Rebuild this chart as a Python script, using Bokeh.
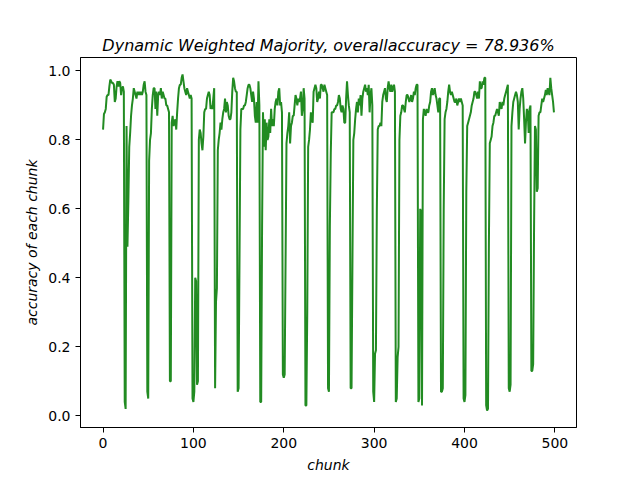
from bokeh.plotting import figure
from bokeh.models import Range1d, FixedTicker, PrintfTickFormatter, ColumnDataSource
from bokeh.embed import file_html
from bokeh.resources import INLINE

# accuracy of each chunk
acc_start = [0.83, 0.875, 0.88, 0.89, 0.925, 0.93, 0.93, 0.955, 0.975, 0.97, 0.965, 0.965,
             0.96, 0.91, 0.92, 0.955, 0.97, 0.955, 0.97, 0.965, 0.93, 0.95, 0.955, 0.94]
acc_seg00 = [0.04, 0.02, 0.84, 0.49, 0.62, 0.78, 0.82, 0.87, 0.90, 0.92, 0.95, 0.94, 0.93,
             0.92, 0.94, 0.93, 0.94, 0.93, 0.94, 0.93, 0.94, 0.96, 0.97, 0.94, 0.93]
acc_seg01 = [0.07, 0.05, 0.74, 0.80, 0.82, 0.89, 0.93, 0.95, 0.95, 0.89, 0.94, 0.87, 0.93,
             0.94, 0.93, 0.95, 0.92, 0.94, 0.93, 0.92, 0.92, 0.90, 0.90, 0.89, 0.88]
acc_seg02 = [0.10, 0.10, 0.85, 0.87, 0.84, 0.85, 0.86, 0.83, 0.88, 0.92, 0.95, 0.96, 0.96,
             0.98, 0.99, 0.97, 0.95, 0.94, 0.93, 0.95, 0.94, 0.93, 0.92, 0.93, 0.92]
acc_seg03 = [0.05, 0.04, 0.07, 0.40, 0.39, 0.09, 0.10, 0.80, 0.83, 0.82, 0.79, 0.77, 0.81,
             0.88, 0.89, 0.89, 0.92, 0.93, 0.94, 0.93, 0.89, 0.90, 0.89, 0.92, 0.95]
acc_seg04 = [0.08, 0.33, 0.37, 0.77, 0.80, 0.82, 0.85, 0.83, 0.86, 0.88, 0.89, 0.92, 0.88,
             0.91, 0.90, 0.87, 0.86, 0.86, 0.88, 0.94, 0.98, 0.97, 0.95, 0.94, 0.94]
acc_seg05 = [0.07, 0.08, 0.45, 0.83, 0.89, 0.89, 0.89, 0.90, 0.90, 0.91, 0.93, 0.95, 0.96,
             0.96, 0.95, 0.93, 0.91, 0.94, 0.92, 0.87, 0.85, 0.91, 0.85, 0.97, 0.90]
acc_seg06 = [0.04, 0.04, 0.55, 0.88, 0.78, 0.86, 0.77, 0.85, 0.80, 0.81, 0.86, 0.82, 0.89,
             0.84, 0.86, 0.84, 0.89, 0.91, 0.92, 0.90, 0.94, 0.95, 0.90, 0.91, 0.88]
acc_seg07 = [0.12, 0.11, 0.12, 0.45, 0.79, 0.82, 0.84, 0.88, 0.79, 0.84, 0.85, 0.87, 0.87,
             0.90, 0.93, 0.92, 0.90, 0.92, 0.91, 0.92, 0.94, 0.87, 0.89, 0.95, 0.92]
acc_seg08 = [0.03, 0.03, 0.30, 0.78, 0.80, 0.83, 0.88, 0.86, 0.85, 0.94, 0.95, 0.96, 0.95,
             0.91, 0.92, 0.94, 0.92, 0.96, 0.96, 0.95, 0.94, 0.96, 0.95, 0.94, 0.93]
acc_seg09 = [0.08, 0.07, 0.55, 0.76, 0.88, 0.88, 0.88, 0.89, 0.89, 0.90, 0.90, 0.91, 0.93,
             0.92, 0.89, 0.88, 0.90, 0.89, 0.85, 0.85, 0.92, 0.97, 0.93, 0.90, 0.88]
acc_seg10 = [0.08, 0.08, 0.45, 0.80, 0.82, 0.86, 0.89, 0.91, 0.88, 0.92, 0.90, 0.93, 0.87,
             0.92, 0.94, 0.95, 0.96, 0.94, 0.95, 0.93, 0.96, 0.88, 0.93, 0.95, 0.90]
acc_seg11 = [0.07, 0.04, 0.18, 0.19, 0.60, 0.83, 0.84, 0.84, 0.85, 0.84, 0.91, 0.93, 0.94,
             0.95, 0.92, 0.91, 0.95, 0.97, 0.95, 0.94, 0.96, 0.94, 0.95, 0.96, 0.94]
acc_seg12 = [0.04, 0.05, 0.17, 0.20, 0.80, 0.87, 0.88, 0.90, 0.90, 0.89, 0.88, 0.91, 0.93,
             0.93, 0.92, 0.91, 0.92, 0.93, 0.91, 0.92, 0.94, 0.93, 0.95, 0.96, 0.96]
acc_seg13 = [0.04, 0.05, 0.60, 0.59, 0.03, 0.86, 0.89, 0.88, 0.87, 0.89, 0.88, 0.88, 0.90,
             0.91, 0.94, 0.95, 0.93, 0.94, 0.95, 0.93, 0.92, 0.90, 0.88, 0.92, 0.92]
acc_seg14 = [0.07, 0.07, 0.08, 0.60, 0.86, 0.88, 0.89, 0.91, 0.94, 0.96, 0.94, 0.93, 0.94,
             0.93, 0.92, 0.91, 0.91, 0.92, 0.90, 0.91, 0.92, 0.91, 0.92, 0.91, 0.90]
acc_seg15 = [0.05, 0.04, 0.06, 0.65, 0.84, 0.85, 0.86, 0.87, 0.88, 0.90, 0.91, 0.92, 0.94,
             0.94, 0.93, 0.92, 0.94, 0.92, 0.97, 0.95, 0.95, 0.97, 0.96, 0.98, 0.98]
acc_seg16 = [0.03, 0.015, 0.02, 0.50, 0.79, 0.80, 0.81, 0.84, 0.85, 0.87, 0.87, 0.88, 0.89,
             0.88, 0.87, 0.91, 0.90, 0.89, 0.91, 0.90, 0.92, 0.93, 0.94, 0.95, 0.96]
acc_seg17 = [0.08, 0.07, 0.09, 0.84, 0.88, 0.91, 0.92, 0.93, 0.94, 0.93, 0.91, 0.83, 0.89,
             0.92, 0.94, 0.95, 0.92, 0.86, 0.79, 0.85, 0.89, 0.88, 0.82, 0.89, 0.90]
acc_seg18 = [0.13, 0.13, 0.15, 0.55, 0.84, 0.83, 0.65, 0.66, 0.87, 0.88, 0.88, 0.90, 0.92,
             0.91, 0.92, 0.93, 0.945, 0.93, 0.95, 0.94, 0.93, 0.98, 0.95, 0.93, 0.91, 0.88]

accuracy = (acc_start + acc_seg00 + acc_seg01 + acc_seg02 + acc_seg03 + acc_seg04 +
            acc_seg05 + acc_seg06 + acc_seg07 + acc_seg08 + acc_seg09 + acc_seg10 +
            acc_seg11 + acc_seg12 + acc_seg13 + acc_seg14 + acc_seg15 + acc_seg16 +
            acc_seg17 + acc_seg18)
chunk = list(range(len(accuracy)))

x_ticks = [0, 100, 200, 300, 400, 500]
y_ticks = [0.0, 0.2, 0.4, 0.6, 0.8, 1.0]
title_text = "Dynamic Weighted Majority, overallaccuracy = 78.936%"

FONT = "DejaVu Sans"

p = figure(width=640, height=480, frame_width=496, frame_height=370,
           min_border_left=80, min_border_right=64, min_border_top=57, min_border_bottom=53,
           x_range=Range1d(-24.95, 523.95), y_range=Range1d(-0.034, 1.039),
           output_backend="svg", toolbar_location=None, title=title_text)

src = ColumnDataSource(data=dict(chunk=chunk, accuracy=accuracy))
p.line("chunk", "accuracy", source=src, line_color="#228b22", line_width=2.0)

p.title.align = "center"
p.title.text_font = FONT
p.title.text_font_size = "16px"
p.title.text_font_style = "italic"
p.title.text_color = "black"
p.title.standoff = 5

p.xgrid.visible = False
p.ygrid.visible = False
p.outline_line_color = "black"
p.outline_line_width = 1
p.background_fill_color = "white"
p.border_fill_color = "white"

for ax in (p.xaxis[0], p.yaxis[0]):
    ax.major_tick_in = 0
    ax.major_tick_out = 5
    ax.minor_tick_line_color = None
    ax.axis_line_color = "black"
    ax.major_tick_line_color = "black"
    ax.major_label_text_font = FONT
    ax.major_label_text_font_size = "14px"
    ax.major_label_text_color = "black"
    ax.axis_label_text_font = FONT
    ax.axis_label_text_font_size = "14px"
    ax.axis_label_text_font_style = "italic"
    ax.axis_label_text_color = "black"

p.xaxis.ticker = FixedTicker(ticks=x_ticks)
p.yaxis.ticker = FixedTicker(ticks=y_ticks)
p.yaxis.formatter = PrintfTickFormatter(format="%.1f")
p.xaxis.axis_label = "chunk"
p.yaxis.axis_label = "accuracy of each chunk"
p.xaxis.axis_label_standoff = 6
p.yaxis.axis_label_standoff = 5

open("out.html", "w").write(file_html(p, INLINE))
